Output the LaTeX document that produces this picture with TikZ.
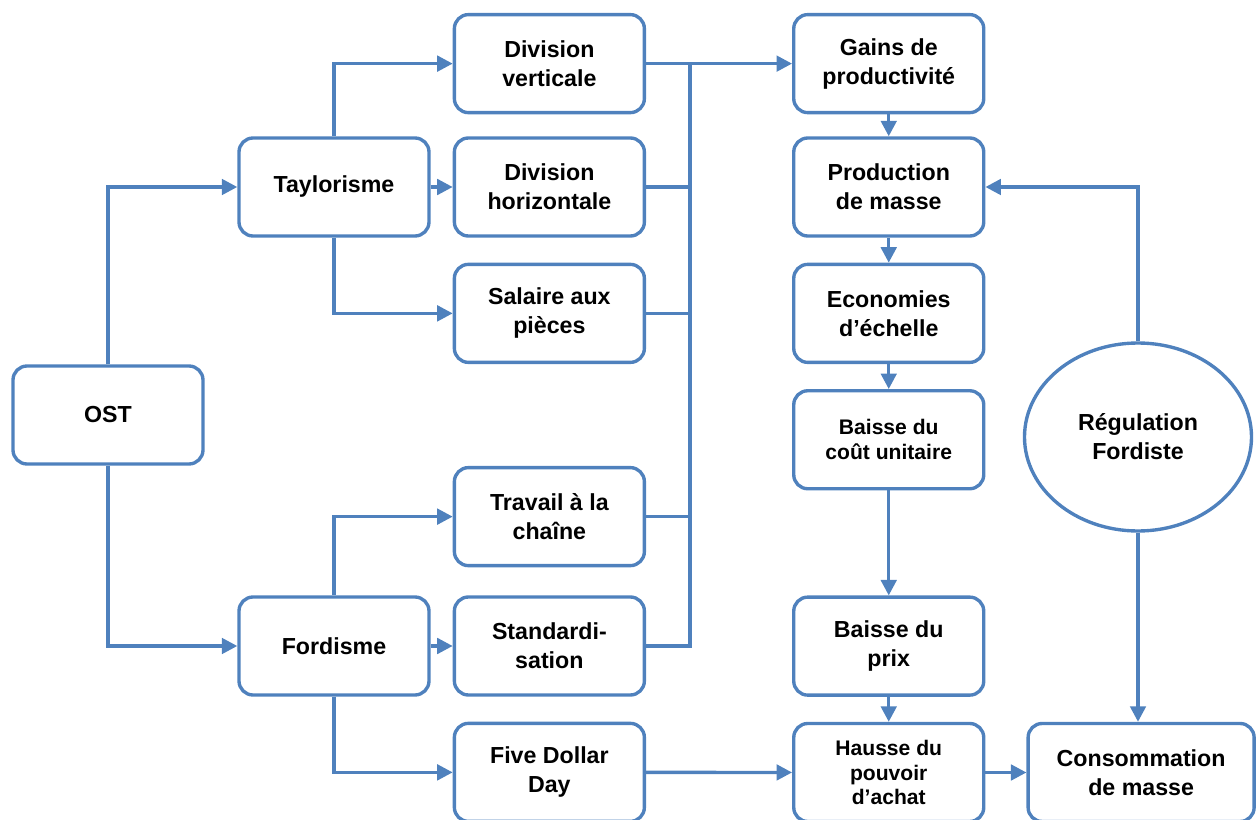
\documentclass[tikz,border=0pt]{standalone}
\usepackage{fontspec}
\setmainfont{Liberation Sans}
\usetikzlibrary{positioning, arrows.meta, shapes.geometric}
\definecolor{ostblue}{RGB}{79,129,189}

\begin{document}
\begin{tikzpicture}[
  stage/.style={draw=ostblue, line width=2.4pt, rounded corners=0.35cm, minimum width=4.75cm, minimum height=2.45cm, inner sep=2pt, align=center, font=\bfseries\fontsize{16.5}{20.5}\selectfont},
  small stage/.style={stage, font=\bfseries\fontsize{15}{17.5}\selectfont},
  link/.style={draw=ostblue, line width=2.4pt, -{Triangle[length=11pt,width=11pt]}},
  wire/.style={draw=ostblue, line width=2.4pt}]
  \useasboundingbox (0,0) rectangle (31.45,-20.5);

  \node[stage] (ost) at (2.7,-10.375) {OST};
  \node[stage] (tay) at (8.35,-4.675) {Taylorisme};
  \node[stage] (ford) at (8.35,-16.15) {Fordisme};

  \node[stage, right=0.55cm of tay] (divh) {Division\\horizontale};
  \node[stage, above=0.55cm of divh] (divv) {Division\\verticale};
  \node[stage, below=0.625cm of divh] (sal) {Salaire aux\\pièces};
  \node[stage, right=0.55cm of ford] (std) {Standardi-\\sation};
  \node[stage, above=0.7cm of std] (trav) {Travail à la\\chaîne};
  \node[stage, below=0.625cm of std] (five) {Five Dollar\\Day};

  \node[stage, right=3.65cm of divv] (gains) {Gains de\\productivité};
  \node[stage, below=0.55cm of gains] (prod) {Production\\de masse};
  \node[stage, below=0.625cm of prod] (eco) {Economies\\d’échelle};
  \node[small stage, below=0.625cm of eco] (cout) {Baisse du\\coût unitaire};
  \node[stage, below=2.625cm of cout] (prix) {Baisse du\\prix};
  \node[small stage, below=0.625cm of prix] (hausse) {Hausse du\\pouvoir\\d’achat};
  \node[stage, minimum width=5.65cm, right=1.025cm of hausse] (conso) {Consommation\\de masse};

  \node[draw=ostblue, line width=2.4pt, ellipse, minimum width=5.675cm, minimum height=4.7cm, inner sep=0pt, align=center, font=\bfseries\fontsize{16.5}{20.5}\selectfont] (reg) at (28.45,-10.925) {Régulation\\Fordiste};

  \draw[link] (ost.north) |- (tay.west);
  \draw[link] (ost.south) |- (ford.west);

  \draw[link] (tay.north) |- (divv.west);
  \draw[link] (tay.east) -- (divh.west);
  \draw[link] (tay.south) |- (sal.west);
  \draw[link] (ford.north) |- (trav.west);
  \draw[link] (ford.east) -- (std.west);
  \draw[link] (ford.south) |- (five.west);

  \coordinate (bus) at (17.25,0);
  \draw[link] (divv.east) -- (gains.west);
  \draw[wire] (divv.east -| bus) -- (std.east -| bus) -- (std.east);
  \draw[wire] (divh.east) -- (divh.east -| bus);
  \draw[wire] (sal.east) -- (sal.east -| bus);
  \draw[wire] (trav.east) -- (trav.east -| bus);

  \draw[link] (gains) -- (prod);
  \draw[link] (prod) -- (eco);
  \draw[link] (eco) -- (cout);
  \draw[link] (cout) -- (prix);
  \draw[link] (prix) -- (hausse);
  \draw[link] (five) -- (hausse);
  \draw[link] (hausse) -- (conso);

  \draw[link] (reg.north) |- (prod.east);
  \draw[link] (reg.south) -- (reg.south |- conso.north);
\end{tikzpicture}
\end{document}
